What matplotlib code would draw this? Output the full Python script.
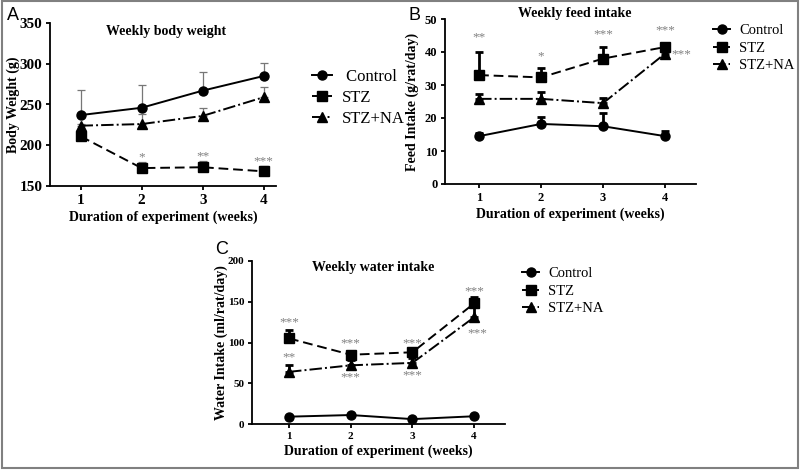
import numpy as np
import matplotlib
matplotlib.use("Agg")
import matplotlib.pyplot as plt
from matplotlib.patches import Rectangle

# data (mean and upper error)
weeks = [1, 2, 3, 4]
groups = ["Control", "STZ", "STZ+NA"]

bw_control = [237, 246, 267, 285]
bw_control_err = [31, 28, 23, 16]
bw_stz = [211, 172, 173, 168]
bw_stz_err = [2, 7, 8, 6]
bw_na = [224, 226, 236, 259]
bw_na_err = [2, 12, 10, 12]

fi_control = [14.5, 18.2, 17.5, 14.5]
fi_control_err = [1.0, 2.0, 4.0, 1.5]
fi_stz = [33.0, 32.3, 38.0, 41.5]
fi_stz_err = [7.0, 3.0, 3.5, 1.0]
fi_na = [25.8, 25.8, 24.5, 39.5]
fi_na_err = [1.5, 2.0, 1.5, 1.5]

wi_control = [9, 11, 6, 9.5]
wi_control_err = [0, 0, 0, 0]
wi_stz = [105, 85, 88, 148]
wi_stz_err = [10, 5, 3, 8]
wi_na = [64, 72, 75, 131]
wi_na_err = [9, 7, 6, 17]

# significance stars: (x, y, text)
bw_stars = [(2, 178, "*"), (3, 179, "**"), (4, 173, "***")]
fi_stars = [(1, 42.5, "**"), (2, 37.0, "*"), (3, 43.5, "***"), (4, 44.8, "***"),
            (4.27, 37.5, "***")]
wi_stars = [(1, 117, "***"), (2, 92, "***"), (3, 92, "***"), (4, 156, "***"),
            (1, 74, "**"), (2, 50, "***"), (3, 52, "***"), (4.05, 104, "***")]

plt.rcParams["font.family"] = "Liberation Serif"
W, H = 800, 470
fig = plt.figure(figsize=(8, 4.7), dpi=100)


def px_axes(l, t, r, b):
    return fig.add_axes([l / W, 1 - b / H, (r - l) / W, (b - t) / H])


def draw_panel(ax, series, errs, ecol, elw, cap, tsize):
    styles = [("-", "o", 6.5), ((0, (5, 2.5)), "s", 7), ("-.", "^", 6.5)]
    handles = []
    for vals, err, (ls, mk, ms), name in zip(series, errs, styles, groups):
        yerr = [np.zeros(len(err)), err]
        ax.errorbar(weeks, vals, yerr=yerr, fmt="none", ecolor=ecol,
                    elinewidth=elw, capsize=cap, capthick=elw, zorder=2)
        h, = ax.plot(weeks, vals, linestyle=ls, marker=mk, color="black",
                     markersize=ms, linewidth=1.4, zorder=3, label=name)
        handles.append(h)
    for s in ["top", "right"]:
        ax.spines[s].set_visible(False)
    ax.spines["left"].set_linewidth(1.3)
    ax.spines["bottom"].set_linewidth(1.3)
    ax.tick_params(width=1.3, length=3, labelsize=tsize, pad=2.5)
    ax.set_xticks(weeks)
    ax.set_xlabel("Duration of experiment (weeks)", fontsize=10,
                  fontweight="bold", labelpad=3)
    return handles


def bold_ticks(ax):
    for lab in ax.get_xticklabels() + ax.get_yticklabels():
        lab.set_fontweight("bold")


def leg_kw(size):
    return dict(loc="upper left", frameon=False, fontsize=size, handlelength=1.2,
                labelspacing=0.3, handletextpad=0.6, borderaxespad=0)

# Panel A
axA = px_axes(50, 23, 276, 186)
hA = draw_panel(axA, [bw_control, bw_stz, bw_na],
                [bw_control_err, bw_stz_err, bw_na_err], "#777777", 0.9, 3, 11)
axA.set_xlim(0.5, 4.2)
axA.set_ylim(150, 350)
axA.set_yticks([150, 200, 250, 300, 350])
bold_ticks(axA)
axA.set_ylabel("Body Weight (g)", fontsize=10, fontweight="bold")
axA.yaxis.set_label_coords((20 - 50) / 226, 0.5)
fig.text(166 / W, 1 - 32 / H, "Weekly body weight", ha="center", va="center",
         fontsize=10, fontweight="bold")
for x, y, s in bw_stars:
    axA.text(x, y, s, ha="center", va="bottom", fontsize=9.5, color="#808080")
fig.legend(hA, [" Control", "STZ", "STZ+NA"],
           bbox_to_anchor=(305 / W, 1 - 62 / H), **leg_kw(12))

# Panel B
axB = px_axes(445, 19, 696, 184)
hB = draw_panel(axB, [fi_control, fi_stz, fi_na],
                [fi_control_err, fi_stz_err, fi_na_err], "black", 2.0, 3, 9)
axB.set_xlim(0.45, 4.5)
axB.set_ylim(0, 50)
axB.set_yticks([0, 10, 20, 30, 40, 50])
bold_ticks(axB)
axB.set_ylabel("Feed Intake (g/rat/day)", fontsize=10, fontweight="bold")
axB.yaxis.set_label_coords((419 - 445) / 251, 0.5)
fig.text(575 / W, 1 - 13 / H, "Weekly feed intake", ha="center", va="center",
         fontsize=10, fontweight="bold")
for x, y, s in fi_stars:
    axB.text(x, y, s, ha="center", va="bottom", fontsize=9.5, color="#808080")
fig.legend(hB, ["Control", "STZ", "STZ+NA"],
           bbox_to_anchor=(707 / W, 1 - 18 / H), **leg_kw(10.5))

# Panel C
axC = px_axes(252, 261, 505, 424)
hC = draw_panel(axC, [wi_control, wi_stz, wi_na],
                [wi_control_err, wi_stz_err, wi_na_err], "black", 2.0, 3, 8)
axC.set_xlim(0.4, 4.5)
axC.set_ylim(0, 200)
axC.set_yticks([0, 50, 100, 150, 200])
bold_ticks(axC)
axC.set_ylabel("Water Intake (ml/rat/day)", fontsize=10, fontweight="bold")
axC.yaxis.set_label_coords((228 - 252) / 253, 0.5)
fig.text(373 / W, 1 - 267 / H, "Weekly water intake", ha="center", va="center",
         fontsize=10, fontweight="bold")
for x, y, s in wi_stars:
    axC.text(x, y, s, ha="center", va="bottom", fontsize=9.5, color="#808080")
fig.legend(hC, ["Control", "STZ", "STZ+NA"],
           bbox_to_anchor=(516 / W, 1 - 261 / H), **leg_kw(10.5))

# panel letters
for x, y, s in [(7, 15, "A"), (409, 15, "B"), (215, 250, "C")]:
    fig.text(x / W, 1 - y / H, s, fontsize=13, family="Liberation Sans",
             ha="left", va="center")

# grey frame around the figure
fig.patches.append(Rectangle((0.002, 0.004), 0.996, 0.993, transform=fig.transFigure,
                             fill=False, edgecolor="#808080", linewidth=1.5))

fig.savefig("out.png", dpi=100)
